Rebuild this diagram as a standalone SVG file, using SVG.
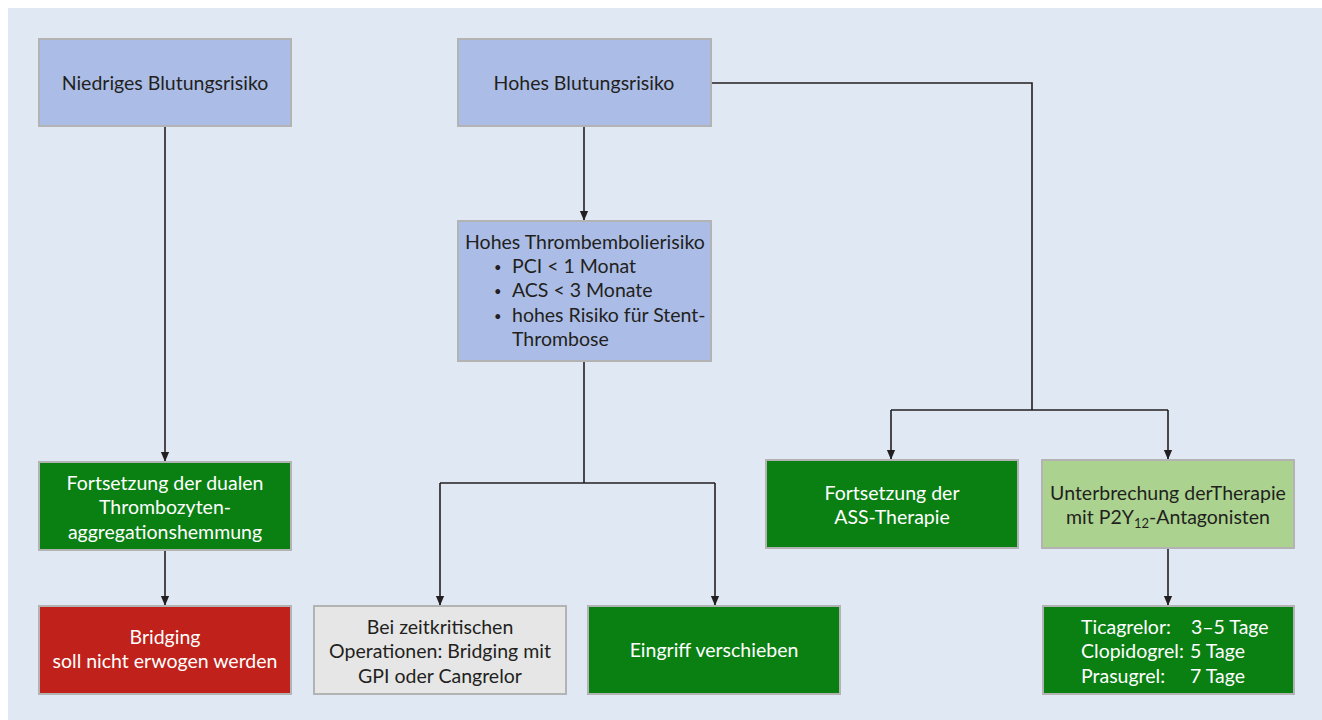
<svg xmlns="http://www.w3.org/2000/svg" width="1322" height="720" viewBox="0 0 1322 720">
<defs>
<style>
.box{stroke:#b3b3b3;stroke-width:2}
.blue{fill:#abbde6}
.green{fill:#0a7f12}
.red{fill:#c0211a}
.grey{fill:#e6e6e6}
.lgreen{fill:#abd38f}
text{font-family:Lato,"Liberation Sans",sans-serif;font-size:19.5px}
.dk{fill:#231f20}
.wt{fill:#ffffff}
.c{text-anchor:middle}
.bul{font-size:13px}
.conn{fill:none;stroke:#231f20;stroke-width:1.6}
</style>
<marker id="ah" markerWidth="10" markerHeight="12" refX="11" refY="5" orient="auto" markerUnits="userSpaceOnUse" viewBox="0 0 12 10">
<path d="M0,0 L12,5 L0,10 Z" fill="#231f20"/>
</marker>
</defs>
<rect x="0" y="0" width="1322" height="720" fill="#ffffff"/>
<rect x="8" y="8" width="1314" height="712" fill="#dfe8f3"/>

<g id="connectors">
<path class="conn" d="M165,126 V461" marker-end="url(#ah)"/>
<path class="conn" d="M165,550 V605" marker-end="url(#ah)"/>
<path class="conn" d="M584,126 V220" marker-end="url(#ah)"/>
<path class="conn" d="M584,361 V483"/>
<path class="conn" d="M440,483 H715"/>
<path class="conn" d="M440,483 V605" marker-end="url(#ah)"/>
<path class="conn" d="M715,483 V605" marker-end="url(#ah)"/>
<path class="conn" d="M711,83 H1032 V410"/>
<path class="conn" d="M891,410 H1168"/>
<path class="conn" d="M891,410 V459" marker-end="url(#ah)"/>
<path class="conn" d="M1168,410 V459" marker-end="url(#ah)"/>
<path class="conn" d="M1168,548 V605" marker-end="url(#ah)"/>
</g>

<g id="niedriges">
<rect class="box blue" x="39" y="39" width="252" height="87"/>
<text class="dk c" x="165" y="90">Niedriges Blutungsrisiko</text>
</g>

<g id="hohes-blutung">
<rect class="box blue" x="458" y="39" width="253" height="87"/>
<text class="dk c" x="584" y="90">Hohes Blutungsrisiko</text>
</g>

<g id="thromb">
<rect class="box blue" x="458" y="221" width="253" height="140"/>
<text class="dk" x="465" y="249">Hohes Thrombembolierisiko</text>
<text class="dk bul" x="494" y="272">•</text><text class="dk" x="512" y="273">PCI  &lt; 1 Monat</text>
<text class="dk bul" x="494" y="296">•</text><text class="dk" x="512" y="297">ACS &lt; 3 Monate</text>
<text class="dk bul" x="494" y="321">•</text><text class="dk" x="512" y="322">hohes Risiko für Stent-</text>
<text class="dk" x="512" y="346">Thrombose</text>
</g>

<g id="fortsetzung-dual">
<rect class="box green" x="39" y="462" width="252" height="88"/>
<text class="wt c" x="165" y="490">Fortsetzung der dualen</text>
<text class="wt c" x="165" y="514">Thrombozyten-</text>
<text class="wt c" x="165" y="539">aggregationshemmung</text>
</g>

<g id="bridging-nein">
<rect class="box red" x="39" y="606" width="252" height="88"/>
<text class="wt c" x="165" y="644">Bridging</text>
<text class="wt c" x="165" y="668">soll nicht erwogen werden</text>
</g>

<g id="bei-zeitkritisch">
<rect class="box grey" x="314" y="606" width="252" height="88"/>
<text class="dk c" x="440" y="634">Bei zeitkritischen</text>
<text class="dk c" x="440" y="658">Operationen: Bridging mit</text>
<text class="dk c" x="440" y="683">GPI oder Cangrelor</text>
</g>

<g id="eingriff">
<rect class="box green" x="588" y="606" width="252" height="88"/>
<text class="wt c" x="714" y="657">Eingriff verschieben</text>
</g>

<g id="fortsetzung-ass">
<rect class="box green" x="766" y="460" width="252" height="88"/>
<text class="wt c" x="892" y="500">Fortsetzung der</text>
<text class="wt c" x="892" y="524">ASS-Therapie</text>
</g>

<g id="unterbrechung">
<rect class="box lgreen" x="1042" y="460" width="252" height="88"/>
<text class="dk c" x="1168" y="500">Unterbrechung derTherapie</text>
<text class="dk c" x="1168" y="524">mit P2Y<tspan font-size="13" dy="4">12</tspan><tspan dy="-4">-Antagonisten</tspan></text>
</g>

<g id="dauer">
<rect class="box green" x="1043" y="606" width="251" height="88"/>
<text class="wt" x="1081" y="634">Ticagrelor:</text><text class="wt" x="1191" y="634">3–5 Tage</text>
<text class="wt" x="1081" y="658">Clopidogrel:</text><text class="wt" x="1190" y="658">5 Tage</text>
<text class="wt" x="1081" y="683">Prasugrel:</text><text class="wt" x="1190" y="683">7 Tage</text>
</g>
</svg>
